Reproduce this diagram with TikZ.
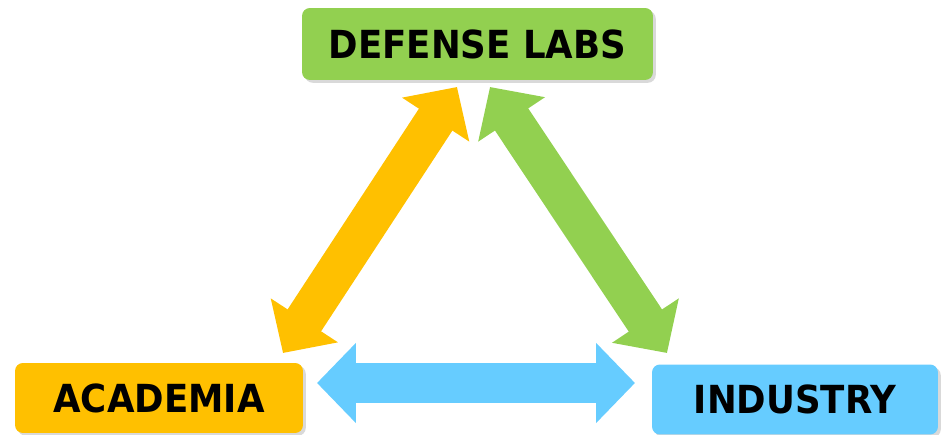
\documentclass[tikz,border=0pt]{standalone}
\usepackage{fontspec}
\setmainfont{DejaVu Sans}[FakeStretch=0.92]
\usetikzlibrary{arrows.meta,shadows}
\definecolor{labgreen}{RGB}{146,208,80}
\definecolor{acaorange}{RGB}{255,192,0}
\definecolor{indblue}{RGB}{102,204,255}
\tikzset{
  box/.style={rounded corners=4.5pt,inner sep=0pt,minimum height=1.4cm,
    font=\fontsize{22}{26}\selectfont\bfseries,text=black,
    drop shadow={shadow xshift=1.6pt,shadow yshift=-1.6pt,opacity=0.3}},
  twoway/.style={line width=0.8cm,
    {Triangle[width=1.56cm,length=0.78cm]}-{Triangle[width=1.56cm,length=0.78cm]}}
}
\begin{document}
\begin{tikzpicture}[x=0.02cm,y=-0.02cm,line join=round]
\useasboundingbox (0,0) rectangle (941,435);
\node[box,fill=labgreen,minimum width=7.02cm,minimum height=1.44cm] (def) at (477.5,44) {DEFENSE LABS};
\node[box,fill=acaorange,minimum width=5.76cm] (aca) at (159,398) {ACADEMIA};
\node[box,fill=indblue,minimum width=5.72cm] (ind) at (795,399.5) {INDUSTRY};
\path
(283,353) coordinate (aca-up)
(457,87) coordinate (def-left)
(490,87) coordinate (def-right)
(667,353) coordinate (ind-up)
(317,383) coordinate (aca-right)
(635,383) coordinate (ind-left)
;
% links between the three
\foreach \a/\b/\c in{aca-up/def-left/acaorange,def-right/ind-up/labgreen,aca-right/ind-left/indblue}
\draw[twoway,draw=\c,fill=\c](\a)--(\b);
\end{tikzpicture}
\end{document}
